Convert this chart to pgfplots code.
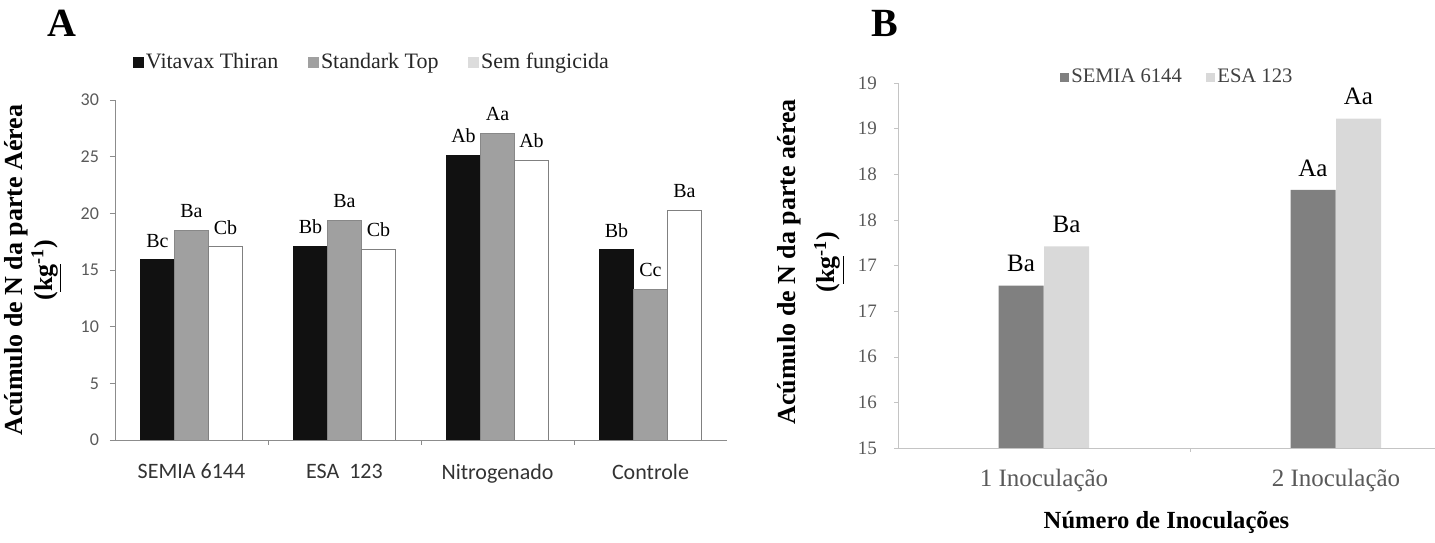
\documentclass[border=0pt]{standalone}
\usepackage{pgfplots}
\pgfplotsset{compat=1.18}
\usepackage{fontspec}
\setmainfont{Liberation Serif}
\newfontfamily\calibri{Carlito}

\definecolor{axgray}{HTML}{8C8C8C}
\definecolor{axlight}{HTML}{C4C4C4}
\definecolor{txtgray}{HTML}{595959}
\definecolor{barAblack}{HTML}{111111}
\definecolor{barAgray}{HTML}{A0A0A0}
\definecolor{barAwhite}{HTML}{FFFFFF}
\definecolor{barAedge}{HTML}{808080}
\definecolor{legAlight}{HTML}{DCDCDC}
\definecolor{barBdark}{HTML}{808080}
\definecolor{barBlight}{HTML}{D9D9D9}

\begin{document}
\begin{tikzpicture}
\path[use as bounding box] (0,0) rectangle (717.5bp,271.5bp);
\node[font=\fontsize{20bp}{24bp}\selectfont\bfseries] at (31bp,260bp) {A};
\node[font=\fontsize{20bp}{24bp}\selectfont\bfseries] at (442.5bp,260bp) {B};

% ---------------- Panel A ----------------
\begin{axis}[
  at={(57.5bp,51.5bp)}, anchor=south west,
  scale only axis, width=306bp, height=170bp,
  xmin=-0.5, xmax=3.5, ymin=0, ymax=30,
  axis lines=left, axis line style={draw=axgray, -},
  tick align=outside, major tick length=2.5bp, minor tick length=2.5bp,
  ytick={0,5,10,15,20,25,30},
  yticklabels={0,5,10,15,20,25,30},
  ytick style={draw=axgray},
  xtick={0,1,2,3},
  xticklabels={SEMIA 6144, ESA\ \ 123, Nitrogenado, Controle},
  major x tick style={draw=none},
  minor xtick={0.5,1.5,2.5},
  minor x tick style={draw=axgray},
  xticklabel style={font=\calibri\fontsize{11bp}{13bp}\selectfont, text=black!80, yshift=-6bp},
  yticklabel style={font=\calibri\fontsize{9bp}{11bp}\selectfont, text=txtgray, xshift=-2bp},
  ylabel={Acúmulo de N da parte Aérea\\(\underline{kg}\textsuperscript{-1})},
  ylabel style={at={(axis description cs:-0.134,0.5)}, anchor=center, align=center,
    font=\fontsize{13bp}{15bp}\selectfont\bfseries},
  nodes near coords={\pgfplotspointmeta},
  point meta=explicit symbolic,
  every node near coord/.append style={font=\fontsize{10bp}{12bp}\selectfont, anchor=south, inner sep=0pt, yshift=6bp},
  legend style={at={(axis description cs:0.029,1.112)}, anchor=west, draw=none, fill=none,
    inner sep=0pt, outer sep=0pt, legend columns=3,
    font=\fontsize{11bp}{13bp}\selectfont, text=black!85,
    nodes={inner sep=1.2bp},
    /tikz/every even column/.append style={column sep=13.5bp}},
  legend cell align=left,
]
\addlegendimage{legend image code/.code={\fill[barAblack] (0bp,-2.5bp) rectangle (5bp,2.5bp);}}
\addlegendentry{Vitavax Thiran}
\addlegendimage{legend image code/.code={\fill[barAgray] (0bp,-2.5bp) rectangle (5bp,2.5bp);}}
\addlegendentry{Standark Top}
\addlegendimage{legend image code/.code={\fill[legAlight] (0bp,-2.5bp) rectangle (5bp,2.5bp);}}
\addlegendentry{Sem fungicida}

\addplot[ybar, bar width=17bp, bar shift=-17bp, fill=barAblack, draw=barAblack, forget plot,
  every node near coord/.append style={xshift=-17bp}]
  coordinates {(0,15.9)[Bc] (1,17.1)[Bb] (2,25.1)[Ab] (3,16.8)[Bb]};
\addplot[ybar, bar width=17bp, bar shift=0bp, fill=barAgray, draw=barAgray!85!black, forget plot]
  coordinates {(0,18.5)[Ba] (1,19.4)[Ba] (2,27.05)[Aa] (3,13.3)[Cc]};
\addplot[ybar, bar width=17bp, bar shift=17bp, fill=barAwhite, draw=barAedge, forget plot,
  every node near coord/.append style={xshift=17bp}]
  coordinates {(0,17.05)[Cb] (1,16.85)[Cb] (2,24.7)[Ab] (3,20.3)[Ba]};
\end{axis}

% ---------------- Panel B ----------------
\begin{axis}[
  at={(449bp,47.5bp)}, anchor=south west,
  scale only axis, width=268.5bp, height=182.5bp,
  xmin=-0.5, xmax=1.339, ymin=15, ymax=19,
  axis lines=left, axis line style={draw=axlight, -},
  tick align=outside, major tick length=2bp, minor tick length=2bp,
  ytick={15,15.5,16,16.5,17,17.5,18,18.5,19},
  yticklabels={15,16,16,17,17,18,18,19,19},
  ytick style={draw=axlight},
  xtick={0,1},
  xticklabels={1 Inoculação, 2 Inoculação},
  major x tick style={draw=none},
  minor xtick={0.5},
  minor x tick style={draw=axlight},
  xticklabel style={font=\fontsize{12.5bp}{15bp}\selectfont, text=txtgray, yshift=-5bp},
  yticklabel style={font=\fontsize{9.5bp}{11bp}\selectfont, text=txtgray, xshift=-5bp},
  ylabel={Acúmulo de N da parte aérea\\(\underline{kg}\textsuperscript{-1})},
  ylabel style={at={(axis description cs:-0.162,0.51)}, anchor=center, align=center,
    font=\fontsize{13bp}{19.5bp}\selectfont\bfseries},
  xlabel={Número de Inoculações},
  xlabel style={at={(axis description cs:0.5,-0.205)}, anchor=center,
    font=\fontsize{12.3bp}{15bp}\selectfont\bfseries},
  nodes near coords={\pgfplotspointmeta},
  point meta=explicit symbolic,
  every node near coord/.append style={font=\fontsize{12.5bp}{15bp}\selectfont, anchor=south, inner sep=0pt, yshift=6.5bp},
  legend style={at={(axis description cs:0.302,1.016)}, anchor=west, draw=none, fill=none,
    inner sep=0pt, outer sep=0pt, legend columns=2,
    font=\fontsize{10.3bp}{12bp}\selectfont, text=black!75,
    nodes={inner sep=1.2bp},
    /tikz/every even column/.append style={column sep=11bp}},
  legend cell align=left,
]
\addlegendimage{legend image code/.code={\fill[barBdark] (0bp,-2bp) rectangle (4bp,2bp);}}
\addlegendentry{SEMIA 6144}
\addlegendimage{legend image code/.code={\fill[barBlight] (0bp,-2bp) rectangle (4bp,2bp);}}
\addlegendentry{ESA 123}

\addplot[ybar, bar width=22.5bp, bar shift=-11.5bp, fill=barBdark, draw=none, forget plot,
  every node near coord/.append style={xshift=-11.5bp}]
  coordinates {(0,16.78)[Ba] (1,17.83)[Aa]};
\addplot[ybar, bar width=22.5bp, bar shift=11.25bp, fill=barBlight, draw=none, forget plot,
  every node near coord/.append style={xshift=11.25bp}]
  coordinates {(0,17.21)[Ba] (1,18.61)[Aa]};
\end{axis}
\end{tikzpicture}
\end{document}
